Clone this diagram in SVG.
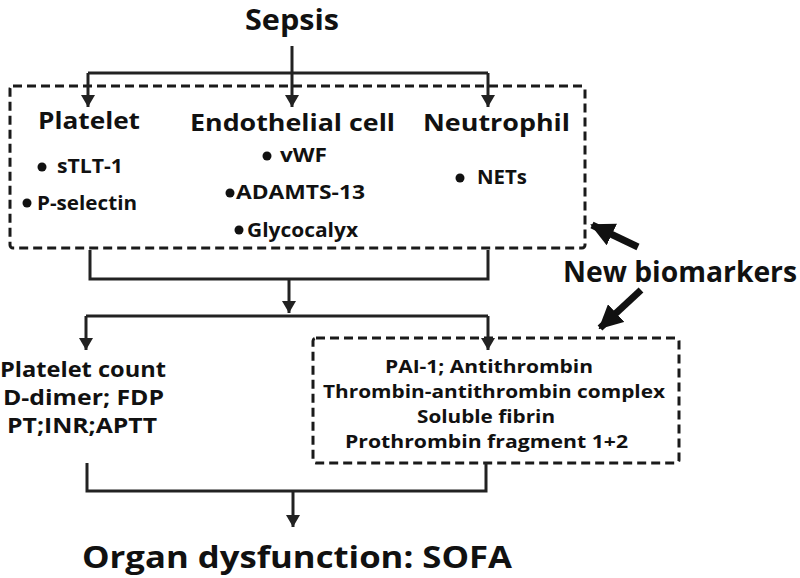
<svg xmlns="http://www.w3.org/2000/svg" width="800" height="578" viewBox="0 0 800 578">
<defs>
<marker id="ah" markerUnits="userSpaceOnUse" markerWidth="12" markerHeight="14" refX="12" refY="7" orient="auto">
<path d="M0,0 L12,7 L0,14 z" fill="#222"/>
</marker>
<marker id="fat" markerUnits="userSpaceOnUse" markerWidth="24" markerHeight="24" refX="22" refY="12" orient="auto">
<path d="M0,0 L24,12 L0,24 z" fill="#111"/>
</marker>
</defs>
<style>
text{font-family:"Open Sans","Noto Sans","DejaVu Sans",sans-serif;font-weight:bold;fill:#111;}
.h{font-size:23px;}
.b{font-size:19px;}
.l{font-size:21px;}
.r{font-size:18.5px;}
.c{fill:none;stroke:#222;stroke-width:3;}
.a{marker-end:url(#ah);}
.box{fill:none;stroke:#1a1a1a;stroke-width:3;stroke-dasharray:9 5;}
.fat{stroke:#111;stroke-width:7;marker-end:url(#fat);}
</style>
<rect width="800" height="578" fill="#fff"/>
<g id="sepsis"><text x="245" y="30" font-size="28" textLength="94" lengthAdjust="spacingAndGlyphs">Sepsis</text></g>
<g id="cells">
<rect class="box" x="10" y="86" width="575" height="162" rx="3"/>
</g>
<g id="platelet">
<text class="h" x="38" y="129" textLength="102" lengthAdjust="spacingAndGlyphs">Platelet</text>
<circle cx="42" cy="167" r="4.5" fill="#111"/>
<text class="b" x="57" y="173" textLength="66" lengthAdjust="spacingAndGlyphs">sTLT-1</text>
<circle cx="27" cy="203" r="4.5" fill="#111"/>
<text class="b" x="37" y="210" textLength="100" lengthAdjust="spacingAndGlyphs">P-selectin</text>
</g>
<g id="endothelial">
<text class="h" x="190" y="131" textLength="205" lengthAdjust="spacingAndGlyphs">Endothelial cell</text>
<circle cx="267" cy="156" r="4.5" fill="#111"/>
<text class="b" x="280" y="162" textLength="47" lengthAdjust="spacingAndGlyphs">vWF</text>
<circle cx="230" cy="193" r="4.5" fill="#111"/>
<text class="b" x="236" y="199" textLength="129" lengthAdjust="spacingAndGlyphs">ADAMTS-13</text>
<circle cx="239" cy="230" r="4.5" fill="#111"/>
<text class="b" x="247" y="237" textLength="111" lengthAdjust="spacingAndGlyphs">Glycocalyx</text>
</g>
<g id="neutrophil">
<text class="h" x="423" y="131" textLength="147" lengthAdjust="spacingAndGlyphs">Neutrophil</text>
<circle cx="460" cy="178" r="4.5" fill="#111"/>
<text class="b" x="477" y="184" textLength="50" lengthAdjust="spacingAndGlyphs">NETs</text>
</g>
<g id="new-biomarkers"><text x="563" y="282" font-size="28" textLength="234" lengthAdjust="spacingAndGlyphs">New biomarkers</text></g>
<g id="conventional">
<text class="l" x="0" y="377" textLength="166" lengthAdjust="spacingAndGlyphs">Platelet count</text>
<text class="l" x="3" y="405" textLength="161" lengthAdjust="spacingAndGlyphs">D-dimer; FDP</text>
<text class="l" x="7" y="433" textLength="150" lengthAdjust="spacingAndGlyphs">PT;INR;APTT</text>
</g>
<g id="coag">
<rect class="box" x="313" y="338" width="366" height="125" rx="3"/>
<text class="r" x="385" y="373" textLength="208" lengthAdjust="spacingAndGlyphs">PAI-1; Antithrombin</text>
<text class="r" x="323" y="398" textLength="342" lengthAdjust="spacingAndGlyphs">Thrombin-antithrombin complex</text>
<text class="r" x="417" y="423" textLength="138" lengthAdjust="spacingAndGlyphs">Soluble fibrin</text>
<text class="r" x="345" y="448" textLength="283" lengthAdjust="spacingAndGlyphs">Prothrombin fragment 1+2</text>
</g>
<g id="organ"><text x="82" y="568" font-size="31" textLength="430" lengthAdjust="spacingAndGlyphs">Organ dysfunction: SOFA</text></g>
<g id="connectors">
<path class="c" d="M88,73 H488"/>
<path class="c a" d="M292,46 V107"/>
<path class="c a" d="M88,73 V107"/>
<path class="c a" d="M488,73 V107"/>
<path class="c" d="M90,250 V279 H488 V250"/>
<path class="c a" d="M289,279 V313"/>
<path class="c" d="M86,316 H488"/>
<path class="c a" d="M86,316 V350"/>
<path class="c a" d="M488,316 V350"/>
<path class="c" d="M87,463 V491 H486 V463"/>
<path class="c a" d="M293,491 V527"/>
<line class="fat" x1="638" y1="247" x2="592" y2="225"/>
<line class="fat" x1="641" y1="290" x2="600" y2="328"/>
</g>
</svg>
